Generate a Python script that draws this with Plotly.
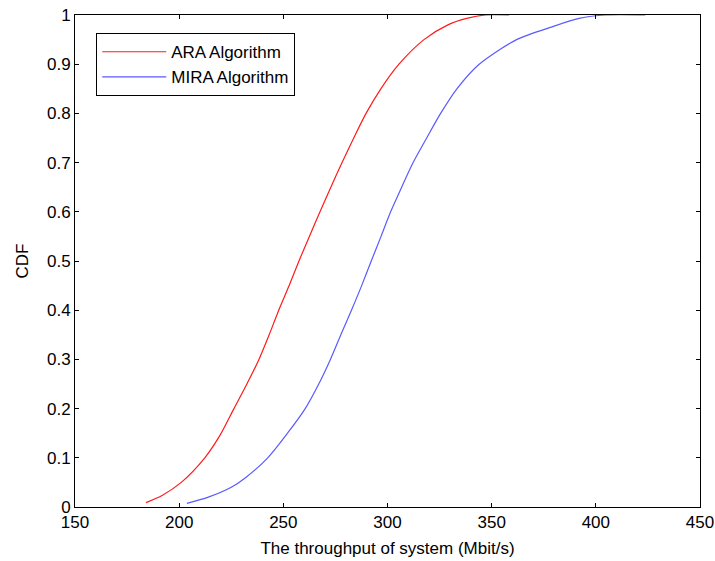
import plotly.graph_objects as go

# Empirical CDF of system throughput (Mbit/s) for the two allocation schemes
ara_throughput = [184.1, 192.0, 201.0, 212.3, 219.5, 226.3, 232.5, 238.3, 243.2, 247.8,
                  252.8, 257.5, 262.5, 267.6, 272.8, 278.2, 283.8, 289.7, 296.8, 305.5,
                  317.5, 329.0, 338.0, 347.0, 358.4]
ara_cdf = [0.009, 0.024, 0.050, 0.100, 0.145, 0.200, 0.250, 0.300, 0.350, 0.400,
           0.450, 0.500, 0.550, 0.600, 0.650, 0.700, 0.750, 0.800, 0.850, 0.900,
           0.950, 0.980, 0.993, 1.000, 1.000]

mira_throughput = [203.7, 214.0, 225.0, 232.0, 242.5, 252.0, 260.5, 267.0, 272.6, 277.6,
                   282.7, 287.6, 292.2, 296.9, 301.5, 306.8, 312.3, 318.8, 325.5, 333.3,
                   344.0, 362.0, 379.0, 392.0, 404.6, 423.7]
mira_cdf = [0.0075, 0.020, 0.040, 0.060, 0.100, 0.150, 0.200, 0.250, 0.300, 0.350,
            0.400, 0.450, 0.500, 0.550, 0.600, 0.650, 0.700, 0.750, 0.800, 0.850,
            0.900, 0.950, 0.976, 0.993, 1.000, 1.000]

series_names = ["ARA Algorithm", "MIRA Algorithm"]
x_ticks = [150, 200, 250, 300, 350, 400, 450]
y_ticks = [0, 0.1, 0.2, 0.3, 0.4, 0.5, 0.6, 0.7, 0.8, 0.9, 1]

FONT = "Liberation Sans, Arial, sans-serif"

fig = go.Figure()
fig.add_trace(go.Scatter(x=ara_throughput, y=ara_cdf, mode="lines", name=series_names[0],
                         legendgroup="ara",
                         line=dict(color="#ff1a1a", width=1.2, shape="spline", smoothing=0.8)))
fig.add_trace(go.Scatter(x=mira_throughput, y=mira_cdf, mode="lines", name=series_names[1],
                         legendgroup="mira",
                         line=dict(color="#5a5aff", width=1.2, shape="spline", smoothing=0.8)))

axis_common = dict(showgrid=False, zeroline=False, showline=True, linecolor="black",
                   linewidth=1, mirror="ticks", ticks="inside", ticklen=4,
                   tickcolor="black", tickwidth=1, automargin=False,
                   tickfont=dict(family=FONT, size=17, color="black"))

fig.update_xaxes(range=[150, 450], tickvals=x_ticks, ticktext=[str(v) for v in x_ticks],
                 title=dict(text="The throughput of system (Mbit/s)",
                            font=dict(family=FONT, size=17, color="black"), standoff=10),
                 **axis_common)
fig.update_yaxes(range=[0, 1], tickvals=y_ticks, ticktext=[f"{v:g}" for v in y_ticks],
                 title=dict(text="CDF", font=dict(family=FONT, size=17, color="black"),
                            standoff=14),
                 **axis_common)

fig.update_layout(
    width=715, height=561,
    margin=dict(l=75, r=15, t=15, b=54, autoexpand=False),
    paper_bgcolor="white", plot_bgcolor="white",
    font=dict(family=FONT, size=17, color="black"),
    showlegend=True,
    legend=dict(x=0.034, y=0.963, xanchor="left", yanchor="top",
                bgcolor="white", bordercolor="black", borderwidth=1,
                font=dict(family=FONT, size=17, color="black"),
                tracegroupgap=3, itemwidth=64, entrywidth=228,
                traceorder="normal"),
)

fig.write_html("out.html")
